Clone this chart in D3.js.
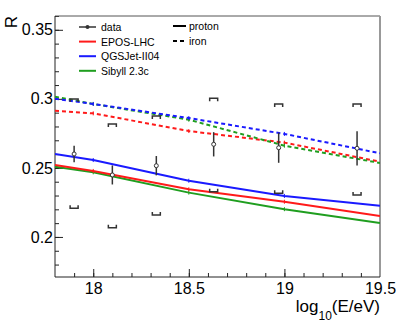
<!DOCTYPE html>
<html>
<head>
<meta charset="utf-8">
<script src="https://cdn.jsdelivr.net/npm/d3@7"></script>
<style>
  body { margin: 0; background: white; }
  svg { display: block; font-family: "Liberation Sans", Arial, sans-serif; }
</style>
</head>
<body>
<div id="chart"></div>
<script>
// R vs energy, data + model predictions

// model energies and curves
var energies = [17.8, 18.0, 18.5, 19.0, 19.5];
var eposP  = [0.2521, 0.2478, 0.2345, 0.2255, 0.2152];
var qgsP   = [0.2601, 0.2557, 0.2407, 0.2297, 0.2226];
var sibP   = [0.2509, 0.2468, 0.2321, 0.2201, 0.2101];
var eposFe = [0.2914, 0.2895, 0.2767, 0.2683, 0.2545];
var qgsFe  = [0.3001, 0.2963, 0.2861, 0.2746, 0.2606];
var sibFe  = [0.3016, 0.2963, 0.2849, 0.2661, 0.2536];

// measured points
var dataE   = [17.9, 18.1, 18.33, 18.63, 18.97, 19.38];
var dataR   = [0.2601, 0.2449, 0.2516, 0.2671, 0.2646, 0.2642];
var dataErr = [0.0060, 0.0069, 0.0070, 0.0088, 0.0109, 0.0124];
var sysHi   = [0.2999, 0.2818, 0.2876, 0.3004, 0.2963, 0.2963];
var sysLo   = [0.2207, 0.2067, 0.2159, 0.2328, 0.2316, 0.2304];

var xTicks = [18, 18.5, 19, 19.5];
var yTicks = [0.2, 0.25, 0.3, 0.35];

var svgWidth = 396, svgHeight = 324;
var padL = 55, padR = 380, padT = 16, padB = 277;

var svg = d3.select('#chart').append('svg')
    .attr('width', svgWidth)
    .attr('height', svgHeight);

var xScale = d3.scaleLinear().domain([17.8, 19.5]).range([padL, padR]);
var yScale = d3.scaleLinear().domain([0.171, 0.36]).range([padB, padT]);

svg.append('clipPath').attr('id', 'plot-clip')
  .append('rect')
    .attr('x', padL).attr('y', padT)
    .attr('width', padR - padL).attr('height', padB - padT);

// Axes

// Y minor
svg.append('g')
    .attr('transform', 'translate(' + padL + ',0)')
    .call(d3.axisLeft(yScale).tickValues(d3.range(0.18, 0.361, 0.01)).tickSize(-4).tickFormat(''))
    .call(g => g.select('.domain').remove());

// Y major
svg.append('g')
    .attr('transform', 'translate(' + padL + ',0)')
    .call(d3.axisLeft(yScale).tickValues(yTicks).tickSize(-8).tickPadding(2).tickFormat(d => String(d)))
    .call(g => g.select('.domain').remove())
    .selectAll('text')
      .style('font-size', '16px')
      .attr('fill', 'black');

// X minor
svg.append('g')
    .attr('transform', 'translate(0,' + padB + ')')
    .call(d3.axisBottom(xScale).tickValues(d3.range(17.9, 19.45, 0.1)).tickSize(-4).tickFormat(''))
    .call(g => g.select('.domain').remove());

// X major
svg.append('g')
    .attr('transform', 'translate(0,' + padB + ')')
    .call(d3.axisBottom(xScale).tickValues(xTicks).tickSize(-8).tickPadding(6).tickFormat(d => String(d)))
    .call(g => g.select('.domain').remove())
    .selectAll('text')
      .style('font-size', '16px')
      .attr('fill', 'black');

svg.selectAll('.tick line').attr('stroke', '#222');

// Frame
svg.append('line').attr('x1', padL).attr('x2', padR).attr('y1', padT).attr('y2', padT)
    .attr('stroke', '#555').attr('stroke-width', 1);
svg.append('line').attr('x1', padR).attr('x2', padR).attr('y1', padT).attr('y2', padB)
    .attr('stroke', '#999').attr('stroke-width', 2);
svg.append('line').attr('x1', padL).attr('x2', padL).attr('y1', padT).attr('y2', padB)
    .attr('stroke', '#222').attr('stroke-width', 1);
svg.append('line').attr('x1', padL).attr('x2', padR).attr('y1', padB).attr('y2', padB)
    .attr('stroke', '#222').attr('stroke-width', 1);

// Model curves
var models = [
  { vals: eposFe, color: '#ff1a1a', dash: '4,3' },
  { vals: sibFe,  color: '#1f9e1f', dash: '4,3' },
  { vals: qgsFe,  color: '#1a1aff', dash: '4,3' },
  { vals: sibP,   color: '#1f9e1f', dash: null },
  { vals: eposP,  color: '#ff1a1a', dash: null },
  { vals: qgsP,   color: '#1a1aff', dash: null }
];

var line = d3.line()
    .x((d, i) => xScale(energies[i]))
    .y(d => yScale(d));

var plot = svg.append('g').attr('clip-path', 'url(#plot-clip)');

models.forEach(function(m) {
  plot.append('path')
      .datum(m.vals)
      .attr('d', line)
      .attr('fill', 'none')
      .attr('stroke', m.color)
      .attr('stroke-width', 2)
      .attr('stroke-dasharray', m.dash);
  plot.selectAll(null)
      .data(m.vals.slice(1, 4))
      .enter().append('line')
        .attr('x1', (d, i) => xScale(energies[i + 1]))
        .attr('x2', (d, i) => xScale(energies[i + 1]))
        .attr('y1', d => yScale(d) - 2)
        .attr('y2', d => yScale(d) + 2)
        .attr('stroke', m.color)
        .attr('stroke-width', 1);
});

// Systematic brackets
var bw = 4, leg = 3;
var sys = plot.append('g').attr('fill', 'none').attr('stroke', '#333').attr('stroke-width', 1.5);
sys.selectAll('.hi')
    .data(sysHi)
    .enter().append('path')
      .attr('d', (d, i) => {
        var x = xScale(dataE[i]), y = yScale(d);
        return 'M' + (x - bw) + ',' + (y + leg) + 'V' + y + 'H' + (x + bw) + 'V' + (y + leg);
      });
sys.selectAll('.lo')
    .data(sysLo)
    .enter().append('path')
      .attr('d', (d, i) => {
        var x = xScale(dataE[i]), y = yScale(d);
        return 'M' + (x - bw) + ',' + (y - leg) + 'V' + y + 'H' + (x + bw) + 'V' + (y - leg);
      });

// Data points with stat errors
plot.selectAll('.err')
    .data(dataR)
    .enter().append('line')
      .attr('x1', (d, i) => xScale(dataE[i]))
      .attr('x2', (d, i) => xScale(dataE[i]))
      .attr('y1', (d, i) => yScale(d + dataErr[i]))
      .attr('y2', (d, i) => yScale(d - dataErr[i]))
      .attr('stroke', '#333')
      .attr('stroke-width', 1.5);

plot.selectAll('.pt')
    .data(dataR)
    .enter().append('circle')
      .attr('cx', (d, i) => xScale(dataE[i]))
      .attr('cy', d => yScale(d))
      .attr('r', 2)
      .attr('fill', 'white')
      .attr('stroke', '#333')
      .attr('stroke-width', 1);

// Legend
var legend1 = [
  { label: 'data', color: '#333' },
  { label: 'EPOS-LHC', color: '#ff1a1a' },
  { label: 'QGSJet-II04', color: '#1a1aff' },
  { label: 'Sibyll 2.3c', color: '#1f9e1f' }
];
var lg = svg.append('g');
legend1.forEach(function(d, i) {
  var y = 27 + i * 14.6;
  lg.append('line').attr('x1', 79).attr('x2', 96).attr('y1', y).attr('y2', y)
      .attr('stroke', d.color).attr('stroke-width', d.label === 'data' ? 1.5 : 2);
  if (d.label === 'data') {
    lg.append('circle').attr('cx', 87.5).attr('cy', y).attr('r', 2).attr('fill', '#333');
  }
  lg.append('text').attr('x', 101).attr('y', y + 4)
      .style('font-size', '10.5px').text(d.label);
});

var legend2 = [
  { label: 'proton', dash: null },
  { label: 'iron', dash: '4,3' }
];
legend2.forEach(function(d, i) {
  var y = 26 + i * 15;
  lg.append('line').attr('x1', 173).attr('x2', 186).attr('y1', y).attr('y2', y)
      .attr('stroke', 'black').attr('stroke-width', 2).attr('stroke-dasharray', d.dash);
  lg.append('text').attr('x', 189).attr('y', y + 4)
      .style('font-size', '10.5px').text(d.label);
});

// Axis titles
svg.append('text')
    .attr('transform', 'translate(17,16) rotate(-90)')
    .attr('text-anchor', 'end')
    .style('font-size', '17px')
    .text('R');

var xt = svg.append('text')
    .attr('x', 380)
    .attr('y', 312)
    .attr('text-anchor', 'end')
    .style('font-size', '17px');
xt.append('tspan').text('log');
xt.append('tspan').attr('dy', 8).style('font-size', '12px').text('10');
xt.append('tspan').attr('dy', -8).text('(E/eV)');
</script>
</body>
</html>
